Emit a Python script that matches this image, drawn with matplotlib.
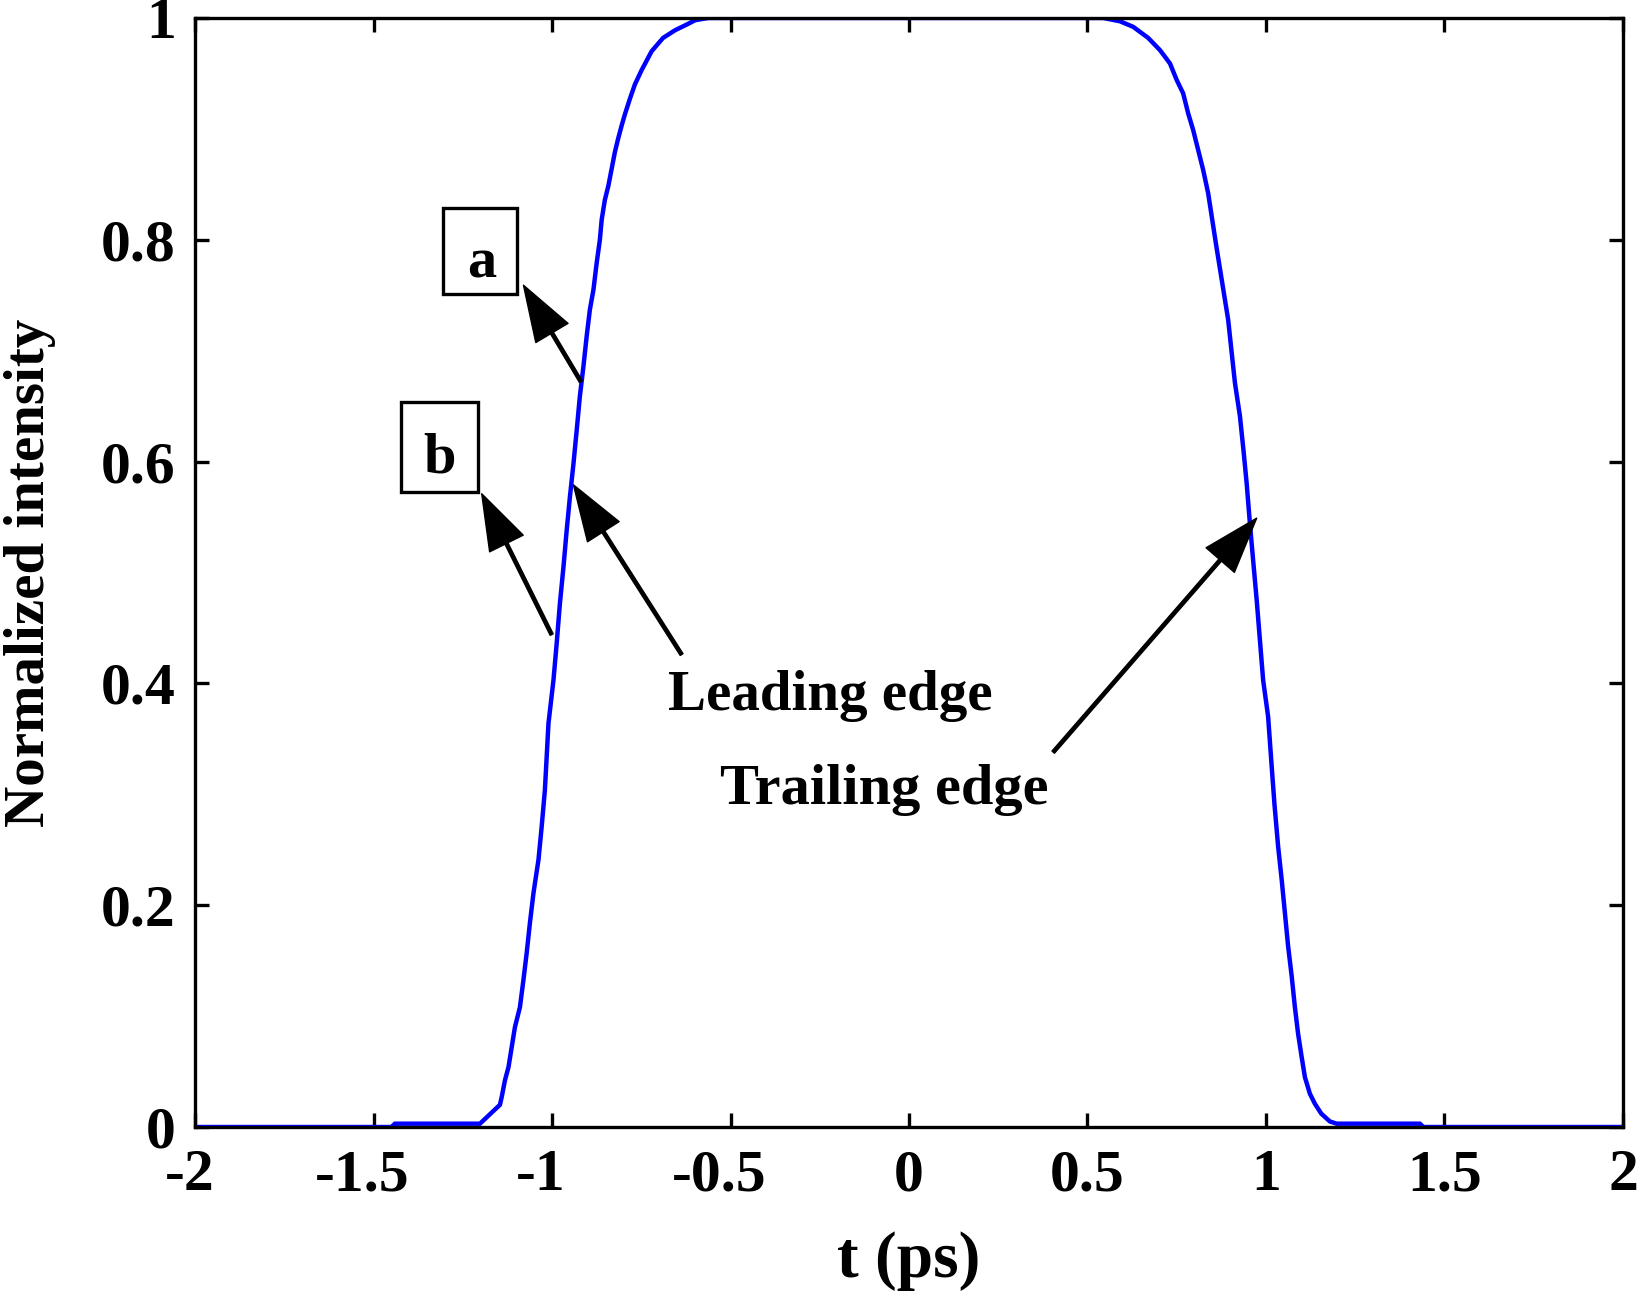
import numpy as np
import matplotlib
matplotlib.use("Agg")
import matplotlib.pyplot as plt
from matplotlib.patches import Rectangle
from matplotlib.transforms import ScaledTranslation

# ---------------------------------------------------------------------------- #
# pulse shape (t in ps, normalized intensity)
t_ps = [-2.0, -1.45, -1.44, -1.202, -1.146, -1.141, -1.132, -1.122, -1.113, -1.104,
        -1.090, -1.080, -1.071, -1.062, -1.052, -1.038, -1.029, -1.020, -1.010,
        -0.996, -0.987, -0.978, -0.968, -0.959, -0.950, -0.940, -0.931, -0.922,
        -0.912, -0.903, -0.894, -0.884, -0.875, -0.866, -0.861, -0.852, -0.842,
        -0.833, -0.824, -0.815, -0.805, -0.796, -0.782, -0.768, -0.749, -0.721,
        -0.689, -0.655, -0.623, -0.599, -0.562,
        0.544, 0.591, 0.628, 0.670, 0.703, 0.731, 0.750, 0.768, 0.782, 0.796,
        0.810, 0.824, 0.838, 0.860, 0.885, 0.894, 0.904, 0.913, 0.927, 0.937,
        0.946, 0.955, 0.964, 0.974, 0.983, 0.992, 1.006, 1.016, 1.024, 1.034,
        1.044, 1.053, 1.062, 1.072, 1.081, 1.090, 1.100, 1.109, 1.123, 1.137,
        1.155, 1.179, 1.198, 1.431, 1.441, 2.0]
intensity = [0.0, 0.0, 0.003, 0.003, 0.020, 0.027, 0.042, 0.054, 0.072, 0.090,
             0.108, 0.133, 0.157, 0.184, 0.211, 0.241, 0.271, 0.304, 0.364,
             0.403, 0.436, 0.472, 0.505, 0.538, 0.568, 0.598, 0.628, 0.659,
             0.686, 0.713, 0.737, 0.755, 0.779, 0.800, 0.818, 0.836, 0.849,
             0.864, 0.879, 0.891, 0.903, 0.913, 0.927, 0.940, 0.953, 0.970,
             0.982, 0.989, 0.994, 0.998, 1.0,
             1.0, 0.997, 0.992, 0.982, 0.971, 0.959, 0.944, 0.932, 0.914, 0.899,
             0.881, 0.863, 0.842, 0.796, 0.746, 0.728, 0.698, 0.671, 0.641, 0.610,
             0.580, 0.544, 0.511, 0.475, 0.439, 0.403, 0.370, 0.325, 0.290, 0.253,
             0.223, 0.193, 0.163, 0.136, 0.108, 0.084, 0.063, 0.045, 0.030, 0.021,
             0.012, 0.005, 0.003, 0.003, 0.0, 0.0]

x_ticks = [-2, -1.5, -1, -0.5, 0, 0.5, 1, 1.5, 2]
x_tick_labels = ["-2", "-1.5", "-1", "-0.5", "0", "0.5", "1", "1.5", "2"]
y_ticks = [0, 0.2, 0.4, 0.6, 0.8, 1]
y_tick_labels = ["0", "0.2", "0.4", "0.6", "0.8", "1"]

# ---------------------------------------------------------------------------- #
plt.rcParams["font.family"] = ["Liberation Serif", "DejaVu Serif"]
plt.rcParams["font.weight"] = "bold"

fig = plt.figure(figsize=(16.42, 12.92), dpi=100)
ax = fig.add_axes([0.1188, 0.1277, 0.8696, 0.8584])

ax.plot(t_ps, intensity, color=(0, 0, 1), lw=3.2, solid_joinstyle="miter")

ax.set_xlim(-2, 2)
ax.set_ylim(0, 1)
ax.set_xticks(x_ticks)
ax.set_xticklabels(x_tick_labels)
ax.set_yticks(y_ticks)
ax.set_yticklabels(y_tick_labels)
ax.tick_params(direction="in", length=10, width=2.4, labelsize=43,
               top=True, right=True)
ax.tick_params(axis="x", pad=16)
ax.tick_params(axis="y", pad=14)
for sp in ax.spines.values():
    sp.set_linewidth(2.4)

# matlab-style: negative labels sit a little left of their tick
# (the corner one less, so it keeps clear of the y "0")
for lab in ax.get_xticklabels():
    txt = lab.get_text()
    if txt.startswith("-"):
        dx = -0.05 if txt == "-2" else -0.11
        lab.set_transform(lab.get_transform() + ScaledTranslation(dx, 0, fig.dpi_scale_trans))

ax.set_xlabel("t (ps)", fontsize=47, fontweight="bold", labelpad=20)
ax.set_ylabel("Normalized intensity", fontsize=41, fontweight="bold", labelpad=32)

# annotations
arrow = dict(facecolor="k", edgecolor="k", width=2.4, headwidth=27,
             headlength=40, shrink=0)
ax.annotate("", xy=(-1.080, 0.759), xytext=(-0.919, 0.672), arrowprops=arrow)
ax.annotate("", xy=(-1.197, 0.571), xytext=(-1.001, 0.444), arrowprops=arrow)
ax.annotate("", xy=(-0.940, 0.579), xytext=(-0.637, 0.426), arrowprops=arrow)
ax.annotate("", xy=(0.974, 0.549), xytext=(0.404, 0.338), arrowprops=arrow)

ax.text(-0.221, 0.376, "Leading edge", fontsize=41, fontweight="bold",
        ha="center", va="baseline")
ax.text(-0.070, 0.291, "Trailing edge", fontsize=42, fontweight="bold",
        ha="center", va="baseline")

ax.add_patch(Rectangle((-1.305, 0.751), 0.207, 0.078, fill=False, lw=2.4, ec="k"))
ax.add_patch(Rectangle((-1.424, 0.573), 0.216, 0.081, fill=False, lw=2.4, ec="k"))
ax.text(-1.196, 0.766, "a", fontsize=42, fontweight="bold", ha="center", va="baseline")
ax.text(-1.314, 0.590, "b", fontsize=42, fontweight="bold", ha="center", va="baseline")

fig.savefig("out.png", dpi=100)
